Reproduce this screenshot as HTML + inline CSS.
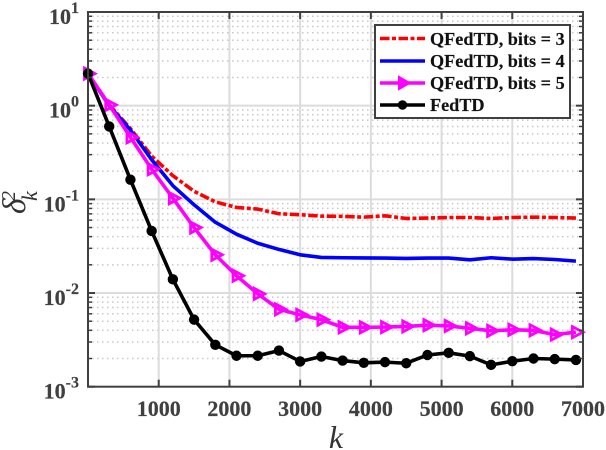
<!DOCTYPE html>
<html>
<head>
<meta charset="utf-8">
<title>QFedTD convergence chart</title>
<style>
html,body{margin:0;padding:0;background:#fff;}
svg{display:block;font-family:"Liberation Serif",serif;}
.tick{font-weight:bold;font-size:22px;fill:#404040;stroke:#404040;stroke-width:0.2px;}
.legend-text{font-weight:bold;font-size:18.2px;fill:#111;stroke:#111;stroke-width:0.15px;}
</style>
</head>
<body>
<svg id="chart" xmlns="http://www.w3.org/2000/svg" width="606" height="450" viewBox="0 0 606 450">
  <rect x="0" y="0" width="606" height="450" fill="#fff"/>
  <g id="grid"></g>
  <g id="series"></g>
  <g id="axes"></g>
  <text x="336" y="448" text-anchor="middle" font-size="32" font-style="italic" fill="#333">k</text>
  <g fill="#333" font-style="italic">
    <text transform="translate(25,214) rotate(-90)" font-size="33">δ</text>
    <text transform="translate(15,201) rotate(-90)" font-size="20">2</text>
    <text transform="translate(37,201) rotate(-90)" font-size="22">k</text>
  </g>
  <g id="legend">
    <rect x="375" y="25" width="195" height="93" fill="#fff" stroke="#404040" stroke-width="2"/>
    <g>
      <line x1="380" y1="38.5" x2="425" y2="38.5" stroke="#ff0000" stroke-width="3.5" stroke-dasharray="9.5 2.5 4 2.5"/>
      <text class="legend-text" x="430" y="45">QFedTD, bits = 3</text>
    </g>
    <g>
      <line x1="380" y1="61" x2="425" y2="61" stroke="#0000ff" stroke-width="3.5"/>
      <text class="legend-text" x="430" y="67">QFedTD, bits = 4</text>
    </g>
    <g>
      <line x1="380" y1="83" x2="425" y2="83" stroke="#ff00ff" stroke-width="3.5"/>
      <polygon points="399,77 399,89 409.5,83" fill="#ff00ff" stroke="#ff00ff" stroke-width="2"/>
      <text class="legend-text" x="430" y="89">QFedTD, bits = 5</text>
    </g>
    <g>
      <line x1="380" y1="105" x2="425" y2="105" stroke="#000" stroke-width="3.5"/>
      <circle cx="402.5" cy="105" r="4.7" fill="#000"/>
      <text class="legend-text" x="430" y="111">FedTD</text>
    </g>
  </g>
</svg>
<script>
var iterations = [0,300,600,900,1200,1500,1800,2100,2400,2700,3000,3300,3600,3900,4200,4500,4800,5100,5400,5700,6000,6300,6600,6900];
var bits3Values = [2.2,1.02,0.57,0.29,0.179,0.122,0.094,0.082,0.0787,0.0702,0.0685,0.0662,0.0658,0.0646,0.0667,0.0625,0.0632,0.064,0.064,0.0625,0.064,0.0646,0.064,0.0632];
var bits4Values = [2.2,1.0,0.55,0.265,0.14,0.0875,0.057,0.0425,0.034,0.0292,0.0256,0.024,0.0238,0.0237,0.0236,0.0234,0.0236,0.0236,0.0226,0.0238,0.023,0.0233,0.0228,0.0219];
var bits5Values = [2.2,1.02,0.46,0.21,0.103,0.05,0.0256,0.0153,0.0098,0.0067,0.00585,0.0052,0.0043,0.0043,0.00433,0.0044,0.00454,0.00445,0.0042,0.00395,0.00405,0.004,0.0036,0.00382];
var fedtdValues = [2.2,0.6,0.162,0.046,0.014,0.0052,0.0028,0.00214,0.00214,0.00243,0.00186,0.0021,0.0019,0.0018,0.00183,0.00178,0.00218,0.0023,0.00212,0.00171,0.00187,0.002,0.00197,0.00193];
var xTickLabels = [1000,2000,3000,4000,5000,6000,7000];
var yTickExponents = [1,0,-1,-2,-3];

var plotLeft = 88, plotRight = 583, plotTop = 12, plotBottom = 386.7;
var xMax = 7000, logMax = 1, logMin = -3;
var NS = 'http://www.w3.org/2000/svg';

function xScale(v){ return plotLeft + (v / xMax) * (plotRight - plotLeft); }
function yScale(v){ return plotTop + (logMax - Math.log10(v)) / (logMax - logMin) * (plotBottom - plotTop); }
function make(tag, parent, attrs){
  var el = document.createElementNS(NS, tag);
  for (var k in attrs){ el.setAttribute(k, attrs[k]); }
  parent.appendChild(el);
  return el;
}

var gridG = document.getElementById('grid');
var axesG = document.getElementById('axes');
var seriesG = document.getElementById('series');

/* minor horizontal dotted grid and minor ticks */
yTickExponents.slice(0, -1).forEach(function(e){
  for (var m = 2; m <= 9; m++){
    var val = m * Math.pow(10, e - 1);
    var y = yScale(val);
    var dot = make('line', gridG, {x1: plotLeft, x2: plotRight, y1: y, y2: y, stroke: '#c8c8c8', 'stroke-width': 1.5, 'stroke-dasharray': '1.5 3.5', 'stroke-dashoffset': 1});
    
    
    var tl = make('line', axesG, {x1: plotLeft, x2: plotLeft + 4, y1: y, y2: y, stroke: '#404040', 'stroke-width': 1.5});
    
    
    var tr = make('line', axesG, {x1: plotRight - 4, x2: plotRight, y1: y, y2: y, stroke: '#404040', 'stroke-width': 1.5});
    
    
  }
});

/* major grid, ticks, tick labels: y */
yTickExponents.forEach(function(e){
  var y = yScale(Math.pow(10, e));
  if (e !== logMax && e !== logMin){
    var g = make('line', gridG, {x1: plotLeft, x2: plotRight, y1: y, y2: y, stroke: '#dcdcdc', 'stroke-width': 2});
    
    
  }
  var tl = make('line', axesG, {x1: plotLeft, x2: plotLeft + 7, y1: y, y2: y, stroke: '#404040', 'stroke-width': 2});
  
  
  var tr = make('line', axesG, {x1: plotRight - 7, x2: plotRight, y1: y, y2: y, stroke: '#404040', 'stroke-width': 2});
  
  
  var label = make('text', axesG, {'class': 'tick', x: 79, y: y + 12, 'text-anchor': 'end'});
  
  
  var base = make('tspan', label, {});
  base.textContent = '10';
  var sup = make('tspan', label, {dy: -11, 'font-size': 16});
  sup.textContent = String(e);
});

/* major grid, ticks, tick labels: x */
xTickLabels.forEach(function(t){
  var x = xScale(t);
  if (t !== xMax){
    var g = make('line', gridG, {x1: x, x2: x, y1: plotTop, y2: plotBottom, stroke: '#dcdcdc', 'stroke-width': 2});
    
    
  }
  var tb = make('line', axesG, {x1: x, x2: x, y1: plotBottom - 7, y2: plotBottom, stroke: '#404040', 'stroke-width': 2});
  
  
  var tt = make('line', axesG, {x1: x, x2: x, y1: plotTop, y2: plotTop + 7, stroke: '#404040', 'stroke-width': 2});
  
  
  var label = make('text', axesG, {'class': 'tick', x: x, y: 416, 'text-anchor': 'middle'});
  
  
  label.textContent = String(t);
});

var frame = make('rect', axesG, {x: plotLeft, y: plotTop, width: plotRight - plotLeft, height: plotBottom - plotTop, fill: 'none', stroke: '#404040', 'stroke-width': 2});



function linePoints(values){
  return values.map(function(v, i){ return xScale(iterations[i]).toFixed(2) + ',' + yScale(v).toFixed(2); }).join(' ');
}

var redLine = make('polyline', seriesG, {points: linePoints(bits3Values), fill: 'none', stroke: '#ff0000', 'stroke-width': 3.6, 'stroke-dasharray': '9.5 2.5 4 2.5', 'stroke-linejoin': 'round'});



var blueLine = make('polyline', seriesG, {points: linePoints(bits4Values), fill: 'none', stroke: '#0000ff', 'stroke-width': 3.6, 'stroke-linejoin': 'round'});



var magentaLine = make('polyline', seriesG, {points: linePoints(bits5Values), fill: 'none', stroke: '#ff00ff', 'stroke-width': 3.6, 'stroke-linejoin': 'round'});



bits5Values.forEach(function(v, i){
  var cx = xScale(iterations[i]), cy = yScale(v);
  var pts = [[-3.5, -5.5], [-3.5, 5.5], [7, 0]].map(function(p){ return (cx + p[0]).toFixed(2) + ',' + (cy + p[1]).toFixed(2); }).join(' ');
  var tri = make('polygon', seriesG, {points: pts, fill: 'none', stroke: '#ff00ff', 'stroke-width': 2.8});
  
  
});

var blackLine = make('polyline', seriesG, {points: linePoints(fedtdValues), fill: 'none', stroke: '#000', 'stroke-width': 3.6, 'stroke-linejoin': 'round'});



fedtdValues.forEach(function(v, i){
  var dot = make('circle', seriesG, {cx: xScale(iterations[i]), cy: yScale(v), r: 5.2, fill: '#000'});
  
  
});
</script>
</body>
</html>
